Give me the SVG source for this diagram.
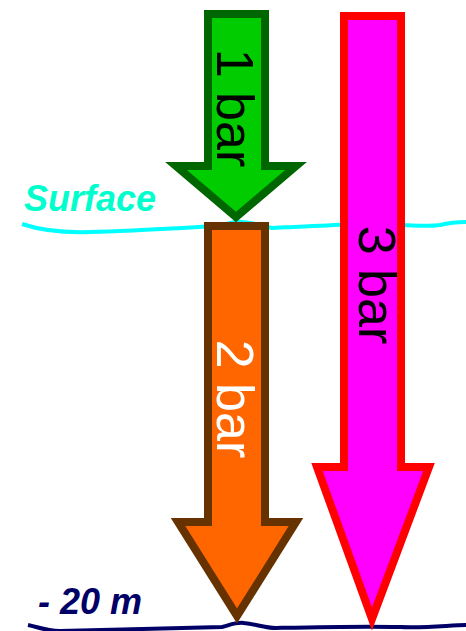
<svg xmlns="http://www.w3.org/2000/svg" width="466" height="631" viewBox="0 0 466 631">
<style>
.arrow{stroke-width:8;stroke-linejoin:miter;stroke-miterlimit:10}
.lbl{font-family:"Liberation Sans",Arial,sans-serif;font-size:52px;text-anchor:middle}
.lvl{font-family:"Liberation Sans",Arial,sans-serif;font-weight:bold;font-style:italic}
</style>
<rect width="466" height="631" fill="#fff"/>
<g id="connectors">
<path id="surface-line" d="M22,224 C40,230 60,233 90,232 C130,231 180,228 218,226 C228,224 234,221 242,222 C252,223 262,225 272,228 C300,227 330,225 360,224 C390,223 420,228 440,225 C452,222 460,222 466,222" fill="none" stroke="#00ffff" stroke-width="4"/>
<path id="depth-line" d="M28,625 C38,627 46,631 60,631 C100,630 180,628 222,627 C230,625 236,622 244,623 C256,624 264,628 276,628 C320,627 360,626 400,627 C430,628 450,625 466,625" fill="none" stroke="#000066" stroke-width="4"/>
</g>
<g id="arrow-1bar">
<polygon class="arrow" points="208,14 265,14 265,166 296,166 236,217 176,166 208,166" fill="#00cc00" stroke="#006600"/>
<text class="lbl" transform="translate(236,108) rotate(90)" x="0" y="19" fill="#000">1 bar</text>
</g>
<g id="arrow-2bar">
<polygon class="arrow" points="208,226 265,226 265,522 296,522 237,616 178,522 208,522" fill="#ff6600" stroke="#663300"/>
<text class="lbl" transform="translate(236,399) rotate(90)" x="0" y="19" fill="#fff">2 bar</text>
</g>
<g id="arrow-3bar">
<polygon class="arrow" points="344,16 401,16 401,467 429,467 372,619 317,467 344,467" fill="#ff00ff" stroke="#ff0000"/>
<text class="lbl" transform="translate(378,285) rotate(90)" x="0" y="19" fill="#000">3 bar</text>
</g>
<g id="label-surface">
<text class="lvl" x="24" y="211" font-size="36" fill="#00ffcc">Surface</text>
</g>
<g id="label-depth">
<text class="lvl" x="38" y="614" font-size="36" fill="#000066">- 20 m</text>
</g>
</svg>
